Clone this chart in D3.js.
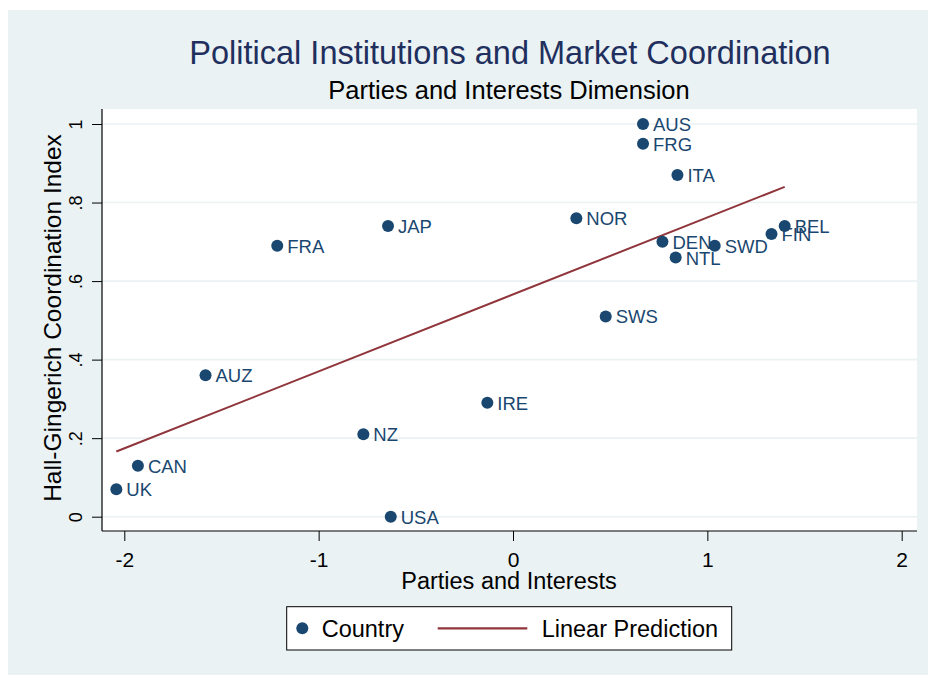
<!DOCTYPE html>
<html>
<head>
<meta charset="utf-8">
<script src="https://cdn.jsdelivr.net/npm/d3@7"></script>
<style>
  html, body { margin: 0; padding: 0; background: #fff; }
  svg { display: block; font-family: "Liberation Sans", Arial, sans-serif; }
</style>
</head>
<body>
<svg id="chart" width="928" height="675"></svg>
<script>
// data
var countries = ["AUS","FRG","ITA","NOR","DEN","SWD","NTL","FIN","BEL","SWS","JAP","FRA","AUZ","IRE","NZ","CAN","UK","USA"];
var partiesInterests = [0.669, 0.669, 0.846, 0.326, 0.769, 1.038, 0.837, 1.330, 1.398, 0.477, -0.643, -1.213, -1.582, -0.132, -0.770, -1.930, -2.041, -0.629];
var coordIndex = [1.00, 0.95, 0.87, 0.76, 0.70, 0.69, 0.66, 0.72, 0.74, 0.51, 0.74, 0.69, 0.36, 0.29, 0.21, 0.13, 0.07, 0.00];
// linear prediction end points
var fitX = [-2.041, 1.398];
var fitY = [0.166, 0.840];
var xTicks = [-2, -1, 0, 1, 2];
var xTickLabels = ["-2", "-1", "0", "1", "2"];
var yTicks = [0, 0.2, 0.4, 0.6, 0.8, 1];
var yTickLabels = ["0", ".2", ".4", ".6", ".8", "1"];

var navy = "#1a476f",
	maroon = "#90353b",
	bg = "#eaf2f3";

var svg = d3.select("#chart"),
	plot = {left: 102, right: 917, top: 109, bottom: 531};

var x = d3.scaleLinear().domain([-2, 2]).range([124.3, 901.7]);
var y = d3.scaleLinear().domain([0, 1]).range([516.7, 124]);

// background
svg.append("rect")
	.attr("x", 8).attr("y", 10)
	.attr("width", 920).attr("height", 665)
	.attr("fill", bg);

svg.append("rect")
	.attr("x", plot.left).attr("y", plot.top)
	.attr("width", plot.right - plot.left).attr("height", plot.bottom - plot.top)
	.attr("fill", "#fff");

// grid
svg.append("g")
	.selectAll("line")
	.data(yTicks)
	.enter().append("line")
	.attr("x1", plot.left).attr("x2", plot.right)
	.attr("y1", function(d) { return y(d); })
	.attr("y2", function(d) { return y(d); })
	.attr("stroke", bg)
	.attr("stroke-width", 1.6);

// titles
svg.append("text")
	.attr("x", 510).attr("y", 64)
	.attr("text-anchor", "middle")
	.attr("font-size", 32.5)
	.attr("fill", "#1f2f5e")
	.text("Political Institutions and Market Coordination");

svg.append("text")
	.attr("x", 509).attr("y", 99)
	.attr("text-anchor", "middle")
	.attr("font-size", 25.5)
	.attr("fill", "#000")
	.text("Parties and Interests Dimension");

// x axis
var xAxis = d3.axisBottom(x)
	.tickValues(xTicks)
	.tickSize(10)
	.tickFormat(function(d, i) { return xTickLabels[i]; });

var gX = svg.append("g")
	.attr("transform", "translate(0," + plot.bottom + ")")
	.call(xAxis);
gX.select(".domain").remove();
gX.selectAll(".tick line").attr("stroke", "#000");
gX.selectAll(".tick text")
	.attr("font-size", 21)
	.attr("font-family", "Liberation Sans, Arial, sans-serif")
	.attr("fill", "#000")
	.attr("dy", null)
	.attr("y", 36);

svg.append("line")
	.attr("x1", plot.left).attr("x2", plot.right)
	.attr("y1", plot.bottom).attr("y2", plot.bottom)
	.attr("stroke", "#000").attr("stroke-width", 1.2);

svg.append("text")
	.attr("x", 509).attr("y", 589)
	.attr("text-anchor", "middle")
	.attr("font-size", 23.5)
	.attr("fill", "#000")
	.text("Parties and Interests");

// y axis
var yAxis = d3.axisLeft(y)
	.tickValues(yTicks)
	.tickSize(10)
	.tickFormat(function(d, i) { return yTickLabels[i]; });

var gY = svg.append("g")
	.attr("transform", "translate(" + plot.left + ",0)")
	.call(yAxis);
gY.select(".domain").remove();
gY.selectAll(".tick line").attr("stroke", "#000");
gY.selectAll(".tick text")
	.attr("font-size", 18)
	.attr("font-family", "Liberation Sans, Arial, sans-serif")
	.attr("fill", "#000")
	.attr("x", null).attr("dy", null)
	.attr("text-anchor", "middle")
	.attr("transform", "translate(-20,0) rotate(-90)");

svg.append("line")
	.attr("x1", plot.left).attr("x2", plot.left)
	.attr("y1", plot.top).attr("y2", plot.bottom)
	.attr("stroke", "#000").attr("stroke-width", 1.2);

svg.append("text")
	.attr("transform", "translate(61,318) rotate(-90)")
	.attr("text-anchor", "middle")
	.attr("font-size", 24.5)
	.attr("fill", "#000")
	.text("Hall-Gingerich Coordination Index");

// fitted line
var fit = fitX.map(function(d, i) { return {x: d, y: fitY[i]}; });
svg.append("path")
	.datum(fit)
	.attr("d", d3.line().x(function(d) { return x(d.x); }).y(function(d) { return y(d.y); }))
	.attr("fill", "none")
	.attr("stroke", maroon)
	.attr("stroke-width", 2);

// points
var pts = countries.map(function(c, i) {
	return {name: c, x: partiesInterests[i], y: coordIndex[i]};
});

var gPts = svg.append("g");
gPts.selectAll("circle")
	.data(pts)
	.enter().append("circle")
	.attr("cx", function(d) { return x(d.x); })
	.attr("cy", function(d) { return y(d.y); })
	.attr("r", 6)
	.attr("fill", navy);

gPts.selectAll("text")
	.data(pts)
	.enter().append("text")
	.attr("x", function(d) { return x(d.x) + 10; })
	.attr("y", function(d) { return y(d.y) + 7; })
	.attr("font-size", 18.5)
	.attr("fill", navy)
	.text(function(d) { return d.name; });

// legend
var legend = svg.append("g");
legend.append("rect")
	.attr("x", 286.7).attr("y", 606.7)
	.attr("width", 445).attr("height", 43.3)
	.attr("fill", "#fff")
	.attr("stroke", "#000")
	.attr("stroke-width", 1);
legend.append("circle")
	.attr("cx", 302.3).attr("cy", 628.3)
	.attr("r", 6)
	.attr("fill", navy);
legend.append("text")
	.attr("x", 321.7).attr("y", 637)
	.attr("font-size", 23.5)
	.attr("fill", "#000")
	.text("Country");
legend.append("line")
	.attr("x1", 437.7).attr("x2", 527.3)
	.attr("y1", 628.3).attr("y2", 628.3)
	.attr("stroke", maroon)
	.attr("stroke-width", 2.2);
legend.append("text")
	.attr("x", 541.7).attr("y", 637)
	.attr("font-size", 23.5)
	.attr("fill", "#000")
	.text("Linear Prediction");
</script>
</body>
</html>
